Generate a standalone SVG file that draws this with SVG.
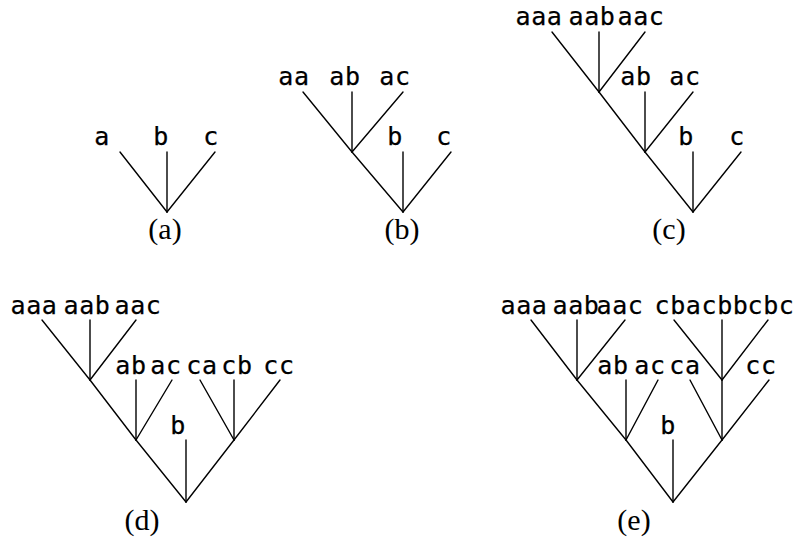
<svg xmlns="http://www.w3.org/2000/svg" width="795" height="540" viewBox="0 0 795 540">
<style>
.lbl{font-family:"DejaVu Sans Mono","Liberation Mono",monospace;font-size:25px;letter-spacing:0.6px;text-anchor:middle;fill:#000;stroke:#000;stroke-width:0.25}
.cap{font-family:"Liberation Serif","DejaVu Serif",serif;font-size:30px;text-anchor:middle;fill:#000}
.edges line{stroke:#000;stroke-width:1.4;stroke-linecap:round}
</style>
<rect width="795" height="540" fill="#fff"/>

<!-- tree (a) -->
<g id="tree-a">
  <g id="a-edges" class="edges">
    <line x1="167" y1="212" x2="120" y2="152"/>
    <line x1="167" y1="212" x2="167" y2="152"/>
    <line x1="167" y1="212" x2="215" y2="152"/>
  </g>
  <g id="a-a"><text class="lbl" x="102" y="145">a</text></g>
  <g id="a-b"><text class="lbl" x="161" y="145">b</text></g>
  <g id="a-c"><text class="lbl" x="211" y="145">c</text></g>
  <g id="cap-a"><text class="cap" x="165" y="239">(a)</text></g>
</g>

<!-- tree (b) -->
<g id="tree-b">
  <g id="b-edges" class="edges">
    <line x1="403" y1="212" x2="352" y2="152"/>
    <line x1="403" y1="212" x2="403" y2="152"/>
    <line x1="403" y1="212" x2="451" y2="152"/>
    <line x1="352" y1="152" x2="303" y2="92"/>
    <line x1="352" y1="152" x2="352" y2="92"/>
    <line x1="352" y1="152" x2="403" y2="92"/>
  </g>
  <g id="b-aa"><text class="lbl" x="294" y="85">aa</text></g>
  <g id="b-ab"><text class="lbl" x="345" y="85">ab</text></g>
  <g id="b-ac"><text class="lbl" x="395" y="85">ac</text></g>
  <g id="b-b"><text class="lbl" x="395" y="145">b</text></g>
  <g id="b-c"><text class="lbl" x="444" y="145">c</text></g>
  <g id="cap-b"><text class="cap" x="402" y="239">(b)</text></g>
</g>

<!-- tree (c) -->
<g id="tree-c">
  <g id="c-edges" class="edges">
    <line x1="693" y1="212" x2="645" y2="152"/>
    <line x1="693" y1="212" x2="693" y2="152"/>
    <line x1="693" y1="212" x2="741" y2="152"/>
    <line x1="645" y1="152" x2="599" y2="92"/>
    <line x1="645" y1="152" x2="645" y2="92"/>
    <line x1="645" y1="152" x2="693" y2="92"/>
    <line x1="599" y1="92" x2="552" y2="32"/>
    <line x1="599" y1="92" x2="599" y2="32"/>
    <line x1="599" y1="92" x2="645" y2="32"/>
  </g>
  <g id="c-aaa"><text class="lbl" x="539" y="25">aaa</text></g>
  <g id="c-aab"><text class="lbl" x="592" y="25">aab</text></g>
  <g id="c-aac"><text class="lbl" x="641" y="25">aac</text></g>
  <g id="c-ab"><text class="lbl" x="636" y="85">ab</text></g>
  <g id="c-ac"><text class="lbl" x="685" y="85">ac</text></g>
  <g id="c-b"><text class="lbl" x="686" y="145">b</text></g>
  <g id="c-c"><text class="lbl" x="737" y="145">c</text></g>
  <g id="cap-c"><text class="cap" x="669" y="239">(c)</text></g>
</g>

<!-- tree (d) -->
<g id="tree-d">
  <g id="d-edges" class="edges">
    <line x1="186" y1="502" x2="136" y2="440"/>
    <line x1="186" y1="502" x2="186" y2="440"/>
    <line x1="186" y1="502" x2="234" y2="440"/>
    <line x1="136" y1="440" x2="90" y2="380"/>
    <line x1="136" y1="440" x2="136" y2="380"/>
    <line x1="136" y1="440" x2="172" y2="380"/>
    <line x1="90" y1="380" x2="42" y2="320"/>
    <line x1="90" y1="380" x2="90" y2="320"/>
    <line x1="90" y1="380" x2="136" y2="320"/>
    <line x1="234" y1="440" x2="200" y2="380"/>
    <line x1="234" y1="440" x2="234" y2="380"/>
    <line x1="234" y1="440" x2="280" y2="380"/>
  </g>
  <g id="d-aaa"><text class="lbl" x="34" y="314">aaa</text></g>
  <g id="d-aab"><text class="lbl" x="87" y="314">aab</text></g>
  <g id="d-aac"><text class="lbl" x="138" y="314">aac</text></g>
  <g id="d-ab"><text class="lbl" x="131" y="374">ab</text></g>
  <g id="d-ac"><text class="lbl" x="166" y="374">ac</text></g>
  <g id="d-ca"><text class="lbl" x="202" y="374">ca</text></g>
  <g id="d-cb"><text class="lbl" x="237" y="374">cb</text></g>
  <g id="d-cc"><text class="lbl" x="279" y="374">cc</text></g>
  <g id="d-b"><text class="lbl" x="178" y="434">b</text></g>
  <g id="cap-d"><text class="cap" x="142" y="530">(d)</text></g>
</g>

<!-- tree (e) -->
<g id="tree-e">
  <g id="e-edges" class="edges">
    <line x1="673" y1="502" x2="626" y2="440"/>
    <line x1="673" y1="502" x2="673" y2="440"/>
    <line x1="673" y1="502" x2="722" y2="440"/>
    <line x1="626" y1="440" x2="577" y2="380"/>
    <line x1="626" y1="440" x2="626" y2="380"/>
    <line x1="626" y1="440" x2="658" y2="380"/>
    <line x1="577" y1="380" x2="531" y2="320"/>
    <line x1="577" y1="380" x2="577" y2="320"/>
    <line x1="577" y1="380" x2="625" y2="320"/>
    <line x1="722" y1="440" x2="690" y2="380"/>
    <line x1="722" y1="440" x2="722" y2="380"/>
    <line x1="722" y1="440" x2="769" y2="380"/>
    <line x1="722" y1="380" x2="674" y2="320"/>
    <line x1="722" y1="380" x2="722" y2="320"/>
    <line x1="722" y1="380" x2="768" y2="320"/>
  </g>
  <g id="e-aaa"><text class="lbl" x="524" y="314">aaa</text></g>
  <g id="e-aab"><text class="lbl" x="576" y="314">aab</text></g>
  <g id="e-aac"><text class="lbl" x="620" y="314">aac</text></g>
  <g id="e-cba"><text class="lbl" x="678" y="314">cba</text></g>
  <g id="e-cbb"><text class="lbl" x="725" y="314">cbb</text></g>
  <g id="e-cbc"><text class="lbl" x="771" y="314">cbc</text></g>
  <g id="e-ab"><text class="lbl" x="613" y="374">ab</text></g>
  <g id="e-ac"><text class="lbl" x="650" y="374">ac</text></g>
  <g id="e-ca"><text class="lbl" x="685" y="374">ca</text></g>
  <g id="e-cc"><text class="lbl" x="761" y="374">cc</text></g>
  <g id="e-b"><text class="lbl" x="668" y="434">b</text></g>
  <g id="cap-e"><text class="cap" x="634" y="530">(e)</text></g>
</g>
</svg>
